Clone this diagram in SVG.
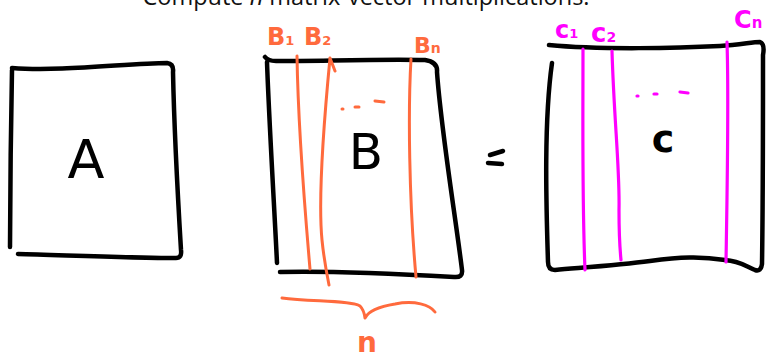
<svg xmlns="http://www.w3.org/2000/svg" width="771" height="354" viewBox="0 0 771 354">
<style>
.ink{fill:none;stroke:#000;stroke-width:4.5;stroke-linecap:round;stroke-linejoin:round}
.or{fill:none;stroke:#FF6A3D;stroke-width:3;stroke-linecap:round;stroke-linejoin:round}
.mg{fill:none;stroke:#FF00FF;stroke-width:3.2;stroke-linecap:round;stroke-linejoin:round}
.big{font-family:"DejaVu Sans",sans-serif;fill:#000}
.lo{font-family:"DejaVu Sans",sans-serif;font-weight:bold;fill:#FF6A3D}
.lm{font-family:"DejaVu Sans",sans-serif;font-weight:bold;fill:#FF00FF}
</style>
<rect width="771" height="354" fill="#fff"/>
<g id="title">
<text x="366" y="5" font-family="Open Sans, sans-serif" font-size="23.5" text-anchor="middle" fill="#111">Compute <tspan font-style="italic">n</tspan> matrix-vector multiplications.</text>
</g>
<g id="matrix-A">
<path class="ink" d="M12,68 C60,72 130,63 167,63 Q174,64 173,72 C174,120 178,200 181,250 Q182,258 176,258 C130,258 60,255 18,254"/>
<path class="ink" d="M12,70 C11,120 10,200 10,247"/>
<text class="big" x="86" y="178" font-size="54" text-anchor="middle">A</text>
</g>
<g id="matrix-B">
<path class="ink" d="M265,57 Q268,61 276,61 C320,61 380,59 425,60 Q438,62 437,72 C441,130 456,220 462,270 Q463,278 454,277 C400,274 320,271 280,272"/>
<path class="ink" d="M267,62 C269,120 275,220 277,263"/>
<path class="or" d="M297,56 C298,120 304,200 310,269"/>
<path class="or" d="M330,58 L335,71 M330,58 C325,110 318,200 322,240 C324,260 327,275 329,285"/>
<path class="or" d="M411,59 C408,110 409,200 416,277"/>
<path class="or" d="M342,109 l1,0 M355,107 l4,0 M375,101 l9,1"/>
<text class="big" x="366" y="169" font-size="50" text-anchor="middle">B</text>
<text class="lo" x="267" y="45" font-size="24">B<tspan font-size="13">1</tspan></text>
<text class="lo" x="304" y="45" font-size="24">B<tspan font-size="13">2</tspan></text>
<text class="lo" x="414" y="53" font-size="22">B<tspan font-size="14">n</tspan></text>
</g>
<g id="equals">
<path class="ink" d="M490,155 L503,151 M488,163 L502,164"/>
</g>
<g id="matrix-C">
<path class="ink" d="M549,45 C600,50 680,48 720,46 C740,45 752,42 760,42 Q765,44 763,55 C763,120 763,200 762,264 Q761,272 755,270 C745,266 740,261 725,260 C700,256 680,257 650,261 C620,265 590,267 555,270 Q548,270 548,262 C546,200 544,120 552,63"/>
<path class="mg" d="M583,49 C583,120 582,200 585,270"/>
<path class="mg" d="M612,51 C614,120 620,170 619,210 C619,235 620,250 621,260"/>
<path class="mg" d="M727,42 C729,100 727,200 726,262"/>
<path class="mg" d="M637,96 l1,0 M654,94 l3,0 M680,92 l8,1"/>
<text class="big" x="663" y="152" font-size="38" font-weight="bold" text-anchor="middle">c</text>
<text class="lm" x="555" y="38" font-size="24">c<tspan font-size="13">1</tspan></text>
<text class="lm" x="591" y="42" font-size="26">c<tspan font-size="14">2</tspan></text>
<text class="lm" x="734" y="28" font-size="24">C<tspan font-size="15">n</tspan></text>
</g>
<g id="brace-n">
<path class="or" d="M282,298 C310,302 350,300 360,306 Q364,310 365,318 Q370,308 395,304 C415,300 430,305 435,312"/>
<text class="lo" x="367" y="352" font-size="28" text-anchor="middle">n</text>
</g>
</svg>
